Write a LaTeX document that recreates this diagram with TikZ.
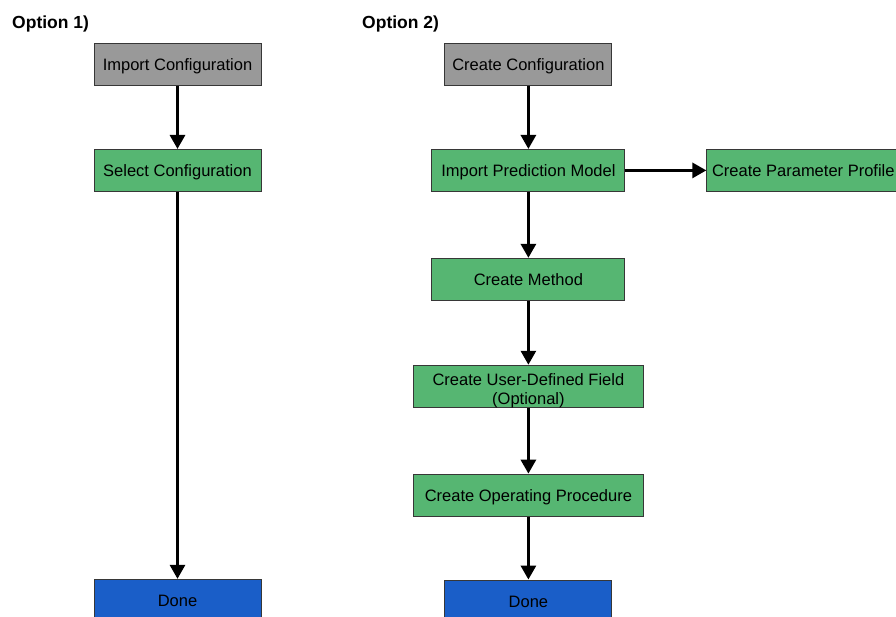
\documentclass[tikz,border=0pt]{standalone}
\usepackage{fontspec}
\setmainfont{Liberation Sans}
\usepackage{tikz}
\usetikzlibrary{arrows.meta, positioning}
\definecolor{stepGray}{RGB}{153,153,153}
\definecolor{stepGreen}{RGB}{86,182,114}
\definecolor{stepBlue}{RGB}{26,94,200}
\definecolor{stepEdge}{RGB}{55,55,55}

\begin{document}
\begin{tikzpicture}[
    x=1pt, y=1pt,
    node distance=63pt,
    basebox/.style={rectangle, draw=stepEdge, line width=0.9pt, minimum height=42pt, inner xsep=4pt, inner ysep=2pt, align=center, font=\fontsize{16.5}{19}\selectfont},
    stepbox/.style={basebox, text height=12pt, text depth=0pt},
    startbox/.style={stepbox, fill=stepGray},
    workbox/.style={stepbox, fill=stepGreen},
    donebox/.style={stepbox, fill=stepBlue},
    arrow/.style={-{Triangle[width=15pt, length=14pt]}, line width=3pt, black},
    title/.style={font=\fontsize{17.5}{20}\selectfont\bfseries, inner sep=0pt, anchor=west}
]
\useasboundingbox (0,0) rectangle (896,-617);
\clip (0,0) rectangle (896,-617);

% --- Titulos ---
\node[title] (opt1) at (12,-24) {Option 1)};
\node[title] (opt2) at (362,-24) {Option 2)};

% --- Opcao 1 (esquerda) ---
\node[startbox, minimum width=167pt] (impcfg) at (177.5,-64.5) {Import Configuration};
\node[workbox, minimum width=167pt, below=of impcfg] (selcfg) {Select Configuration};
\node[donebox, minimum width=167pt, below=387pt of selcfg] (done1) {Done};

% --- Opcao 2 (coluna central) ---
\node[startbox, minimum width=167pt, right=183pt of impcfg] (crecfg) {Create Configuration};
\node[workbox, minimum width=193pt, below=of crecfg] (ipm) {Import Prediction Model};
\node[workbox, minimum width=193pt, below=66pt of ipm] (method) {Create Method};
\node[basebox, fill=stepGreen, text height=37pt, text depth=0pt, minimum width=230pt, below=64pt of method] (udf) {Create User-Defined Field\\(Optional)};
\node[workbox, minimum width=230pt, below=66pt of udf] (opproc) {Create Operating Procedure};
\node[donebox, minimum width=167pt, below=of opproc] (done2) {Done};

% --- Direita ---
\node[workbox, minimum width=193pt, right=81pt of ipm] (profile) {Create Parameter Profile};

% === SETAS ===
\draw[arrow] (impcfg) -- (selcfg);
\draw[arrow] (selcfg) -- (done1);

\draw[arrow] (crecfg) -- (ipm);
\draw[arrow] (ipm) -- (profile);
\draw[arrow] (ipm) -- (method);
\draw[arrow] (method) -- (udf);
\draw[arrow] (udf) -- (opproc);
\draw[arrow] (opproc) -- (done2);

\end{tikzpicture}
\end{document}
